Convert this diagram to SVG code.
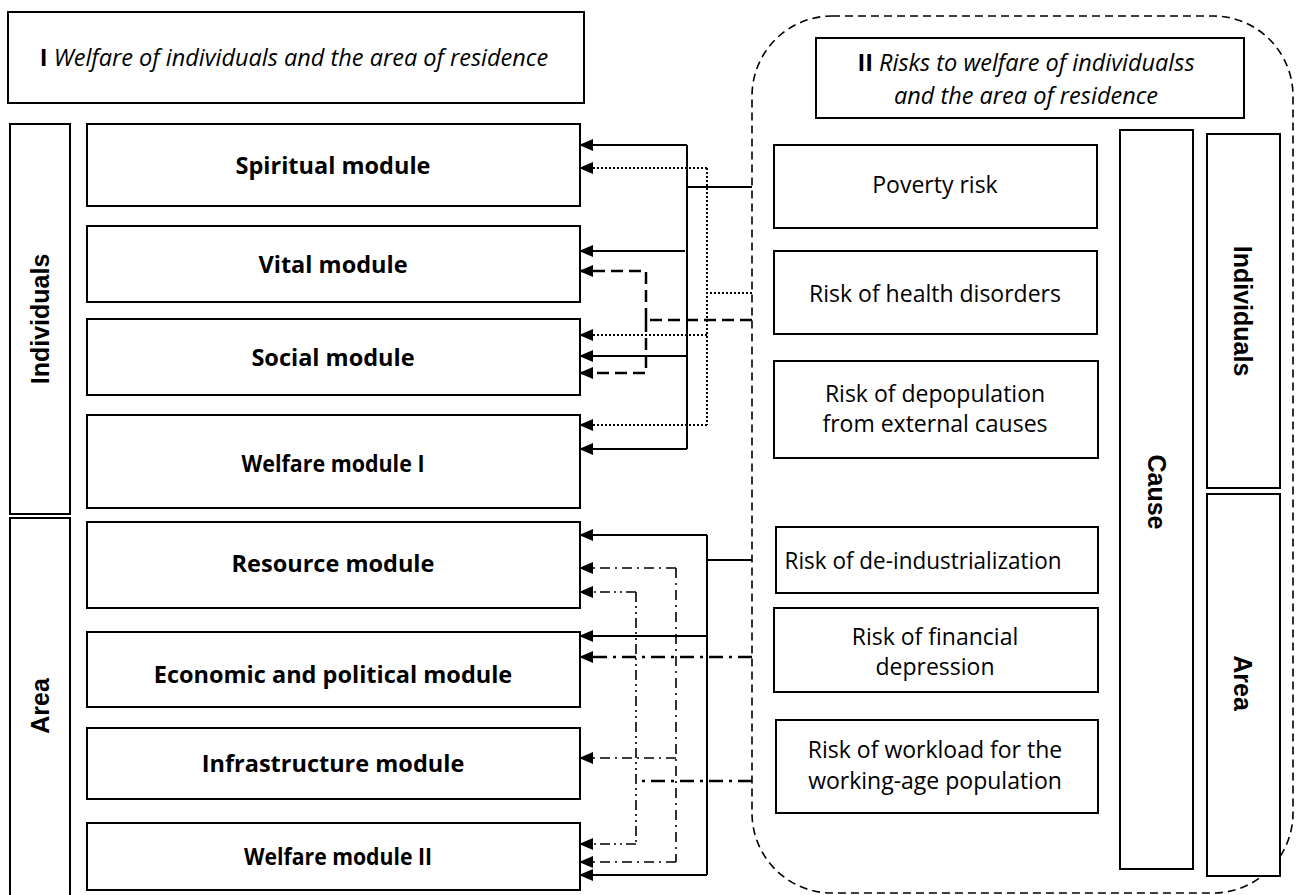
<svg xmlns="http://www.w3.org/2000/svg" width="1302" height="895" viewBox="0 0 1302 895">
<style>
.box{fill:#fff;stroke:#000;stroke-width:2}
.t{font-family:"Open Sans","Liberation Sans",sans-serif;font-size:23px;fill:#000;text-anchor:middle;dominant-baseline:central}
.m{font-size:23.5px;font-weight:bold}
.b{font-weight:bold}
.side{font-family:"Liberation Sans",Arial,sans-serif;font-size:25px;font-weight:bold;fill:#000;text-anchor:middle;dominant-baseline:central}
.it{font-style:italic}
.ttl{font-size:23.5px}
.ln{fill:none;stroke:#000}
.solid{stroke-width:2}
.dot{stroke-width:2;stroke-dasharray:2 2}
.dash{stroke-width:2.5;stroke-dasharray:12 6}
.dd{stroke-width:1.6;stroke-dasharray:10 5 2 5}
.ddd{stroke-width:1.6;stroke-dasharray:10 4 2 4 2 4}
.hdd{stroke-width:2.6;stroke-dasharray:14 6 3 6}
.bound{fill:none;stroke:#000;stroke-width:1.6;stroke-dasharray:8 5}
</style>
<defs>
<marker id="ah" markerUnits="userSpaceOnUse" markerWidth="14" markerHeight="12" refX="13" refY="6" orient="auto">
<path d="M0,0 L14,6 L0,12 z" fill="#000"/>
</marker>
</defs>

<rect class="bound" x="752" y="16" width="541" height="877" rx="80" ry="80"/>

<g id="title-I">
<rect class="box" x="8" y="12" width="576" height="91"/>
<text class="t ttl" x="294" y="57"><tspan class="b">I</tspan> <tspan class="it">Welfare of individuals and the area of residence</tspan></text>
</g>

<g id="side-individuals">
<rect class="box" x="10" y="124" width="60" height="390"/>
<text class="side" transform="translate(40,319) rotate(-90)">Individuals</text>
</g>
<g id="side-area">
<rect class="box" x="10" y="518" width="60" height="390"/>
<text class="side" transform="translate(40,706) rotate(-90)">Area</text>
</g>

<g id="spiritual"><rect class="box" x="87" y="124" width="493" height="82"/><text class="t m" x="333" y="165">Spiritual module</text></g>
<g id="vital"><rect class="box" x="87" y="226" width="493" height="76"/><text class="t m" x="333" y="264">Vital module</text></g>
<g id="social"><rect class="box" x="87" y="319" width="493" height="76"/><text class="t m" x="333" y="357">Social module</text></g>
<g id="welfare1"><rect class="box" x="87" y="415" width="493" height="93"/><text class="t m" x="333" y="463" textLength="183" lengthAdjust="spacingAndGlyphs">Welfare module I</text></g>
<g id="resource"><rect class="box" x="87" y="522" width="493" height="86"/><text class="t m" x="333" y="563">Resource module</text></g>
<g id="economic"><rect class="box" x="87" y="632" width="493" height="75"/><text class="t m" x="333" y="674">Economic and political module</text></g>
<g id="infrastructure"><rect class="box" x="87" y="728" width="493" height="71"/><text class="t m" x="333" y="763">Infrastructure module</text></g>
<g id="welfare2"><rect class="box" x="87" y="823" width="493" height="67"/><text class="t m" x="338" y="856" textLength="188" lengthAdjust="spacingAndGlyphs">Welfare module II</text></g>

<g id="title-II">
<rect class="box" x="816" y="38" width="428" height="80"/>
<text class="t ttl" x="1026" y="62"><tspan class="b">II</tspan> <tspan class="it">Risks to welfare of individualss</tspan></text>
<text class="t ttl it" x="1026" y="95">and the area of residence</text>
</g>

<g id="poverty"><rect class="box" x="774" y="145" width="323" height="83"/><text class="t" x="935" y="184">Poverty risk</text></g>
<g id="health"><rect class="box" x="774" y="251" width="323" height="83"/><text class="t" x="935" y="293">Risk of health disorders</text></g>
<g id="depopulation"><rect class="box" x="774" y="361" width="324" height="97"/><text class="t" x="935" y="393">Risk of depopulation</text><text class="t" x="935" y="423">from external causes</text></g>
<g id="deindustrialization"><rect class="box" x="776" y="527" width="322" height="66"/><text class="t" x="923" y="560" textLength="277" lengthAdjust="spacingAndGlyphs">Risk of de-industrialization</text></g>
<g id="financial"><rect class="box" x="774" y="608" width="324" height="84"/><text class="t" x="935" y="636">Risk of financial</text><text class="t" x="935" y="666">depression</text></g>
<g id="workload"><rect class="box" x="776" y="720" width="322" height="93"/><text class="t" x="935" y="749">Risk of workload for the</text><text class="t" x="935" y="780">working-age population</text></g>

<g id="cause"><rect class="box" x="1120" y="130" width="73" height="739"/><text class="side" transform="translate(1157,492) rotate(90)">Cause</text></g>
<g id="right-individuals"><rect class="box" x="1207" y="134" width="73" height="354"/><text class="side" transform="translate(1243,311) rotate(90)">Individuals</text></g>
<g id="right-area"><rect class="box" x="1207" y="494" width="73" height="382"/><text class="side" transform="translate(1243,683) rotate(90)">Area</text></g>

<g id="connectors">
<path class="ln solid" d="M752,187 H687 M687,145 V449"/>
<path class="ln solid" marker-end="url(#ah)" d="M687,145 H580"/>
<path class="ln solid" marker-end="url(#ah)" d="M685,251 H580"/>
<path class="ln solid" marker-end="url(#ah)" d="M687,356 H580"/>
<path class="ln solid" marker-end="url(#ah)" d="M687,449 H580"/>
<path class="ln dot" d="M752,293 H707 M707,168 V425"/>
<path class="ln dot" marker-end="url(#ah)" d="M707,168 H580"/>
<path class="ln dot" marker-end="url(#ah)" d="M707,335 H580"/>
<path class="ln dot" marker-end="url(#ah)" d="M707,425 H580"/>
<path class="ln dash" d="M752,320 H646"/>
<path class="ln dash" marker-end="url(#ah)" d="M646,320 V271 H580"/>
<path class="ln dash" marker-end="url(#ah)" d="M646,320 V373 H580"/>
<path class="ln solid" d="M752,560 H707 M707,535 V875"/>
<path class="ln solid" marker-end="url(#ah)" d="M707,535 H580"/>
<path class="ln solid" marker-end="url(#ah)" d="M707,636 H580"/>
<path class="ln solid" marker-end="url(#ah)" d="M707,875 H580"/>
<path class="ln hdd" marker-end="url(#ah)" d="M752,657 H580"/>
<path class="ln dd" d="M676,568 V862"/>
<path class="ln dd" marker-end="url(#ah)" d="M676,568 H580"/>
<path class="ln dd" marker-end="url(#ah)" d="M676,758 H580"/>
<path class="ln dd" marker-end="url(#ah)" d="M676,862 H580"/>
<path class="ln hdd" d="M752,781 H636"/>
<path class="ln ddd" d="M636,592 V844"/>
<path class="ln ddd" marker-end="url(#ah)" d="M636,592 H580"/>
<path class="ln ddd" marker-end="url(#ah)" d="M636,844 H580"/>
</g>
</svg>
